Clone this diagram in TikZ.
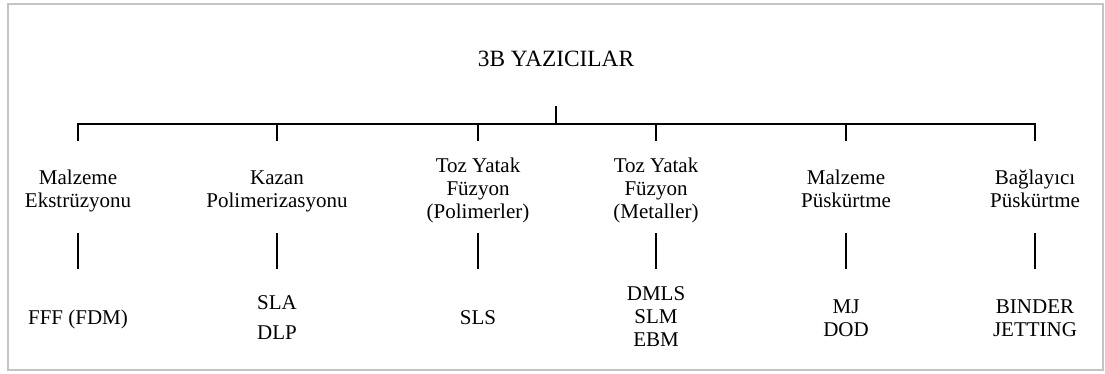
\documentclass[tikz,border=0pt]{standalone}
\usepackage{fontspec}
\setmainfont{Liberation Serif}
\definecolor{framegray}{HTML}{C4C4C4}
\begin{document}
\begin{tikzpicture}[x=0.75pt,y=-0.75pt,
  lbl/.style={inner sep=0pt,align=center,anchor=base,font=\fontsize{15.75}{16.9}\selectfont},
  title/.style={lbl,font=\fontsize{17.5}{18}\selectfont},
  conn/.style={line width=2.2pt,black},
  frame/.style={draw=framegray,line width=1pt}]
\useasboundingbox (0,0) rectangle (1105,374);
\draw[frame] (8,4) rectangle (1103,370);
\node[title] (root) at (556,67) {3B YAZICILAR};
% categories (anchor = baseline of last line)
\node[lbl] (c1) at (78,207) {Malzeme\\Ekstrüzyonu};
\node[lbl] (c2) at (277,207) {Kazan\\Polimerizasyonu};
\node[lbl] (c3) at (478,218) {Toz Yatak\\Füzyon\\(Polimerler)};
\node[lbl] (c4) at (656,218) {Toz Yatak\\Füzyon\\(Metaller)};
\node[lbl] (c5) at (846,207) {Malzeme\\Püskürtme};
\node[lbl] (c6) at (1035,207) {Bağlayıcı\\Püskürtme};
% technologies
\node[lbl] (p1) at (78,324) {FFF (FDM)};
\node[lbl] (p2) at (277,339) {SLA\\[5.6pt]DLP};
\node[lbl] (p3) at (478,324) {SLS};
\node[lbl] (p4) at (656,346) {DMLS\\SLM\\EBM};
\node[lbl] (p5) at (846,336) {MJ\\DOD};
\node[lbl] (p6) at (1035,336) {BINDER\\JETTING};
% tree coordinates
\coordinate (rt) at (556,106);
\coordinate (rb) at (556,124);
\foreach \i/\x in {1/78,2/277,3/478,4/656,5/846,6/1035}{
  \coordinate (t\i) at (\x,124);
  \coordinate (b\i) at (\x,141);
  \coordinate (u\i) at (\x,233);
  \coordinate (d\i) at (\x,269);
}
\draw[conn] (b1) -- (t1) -- (t6) -- (b6);
\draw[conn] (rt) -- (rb);
\foreach \i in {2,3,4,5}{\draw[conn] (t\i) -- (b\i);}
\foreach \i in {1,...,6}{\draw[conn] (u\i) -- (d\i);}
\end{tikzpicture}
\end{document}
